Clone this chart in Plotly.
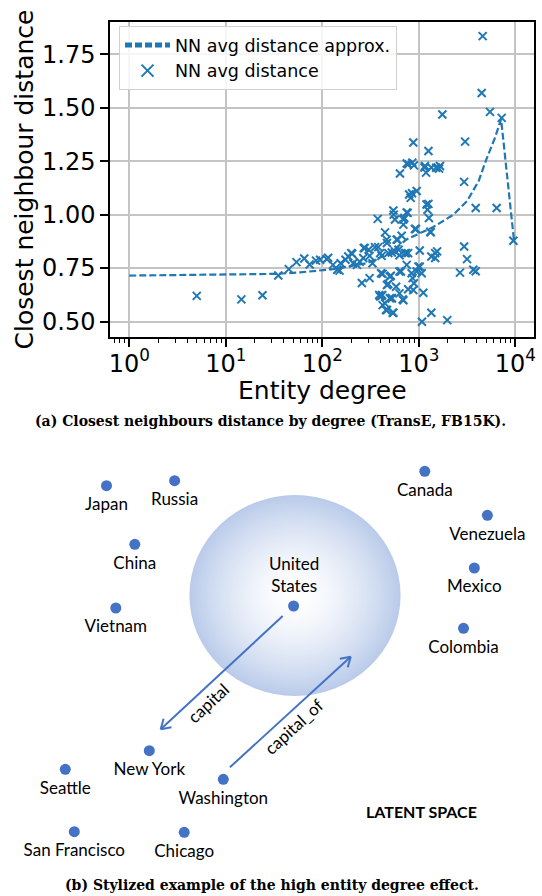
import numpy as np
import plotly.graph_objects as go

# ---------------- panel (a) data ----------------
degree = [5.0, 14.5, 24, 35, 45, 54, 65, 74, 86, 95, 115, 129, 143, 155, 174, 186, 204, 209,
          229, 245, 266, 275, 302, 309, 331, 352, 380, 412, 375, 447, 465, 483, 525, 545, 566,
          603, 617, 638, 665, 692, 708, 736, 750, 767, 794, 824, 857, 877, 891, 933, 951, 776,
          1023, 1159, 1189, 1259, 1202, 1230, 1274, 1327, 1349, 1479, 1549, 1514, 1622,
          257, 309, 422, 389, 417, 422, 457, 483, 513, 525, 545, 582, 631, 653, 681, 750, 776,
          843, 863, 877, 951, 991, 1023, 1072, 1114, 1079, 1349, 1972, 2673, 2951, 3162, 3673,
          3890, 3890, 2951, 3020, 6412, 9550, 4592, 4487, 5470, 7228, 1754, 1660,
          111, 151, 200, 269, 398, 407, 398, 468, 501, 566, 589, 468, 631, 718, 1479, 501, 631,
          1318, 912, 692, 750, 550, 851, 1259, 1148, 1349, 776, 891, 412, 447, 525, 468, 537, 692]
nn_dist = [0.620, 0.604, 0.623, 0.715, 0.745, 0.778, 0.795, 0.767, 0.785, 0.789, 0.798, 0.765,
           0.742, 0.773, 0.789, 0.804, 0.817, 0.773, 0.765, 0.780, 0.797, 0.844, 0.836, 0.807,
           0.773, 0.848, 0.848, 0.807, 0.980, 0.917, 0.883, 0.820, 0.823, 1.019, 0.977, 0.883,
           0.836, 1.192, 0.901, 0.953, 0.984, 0.820, 1.239, 1.008, 1.094, 1.078, 1.243, 1.337,
           1.230, 0.933, 1.110, 0.820, 0.832, 1.227, 1.196, 1.297, 1.047, 1.023, 0.984, 0.917,
           0.804, 0.797, 0.828, 1.219, 1.215,
           0.680, 0.703, 0.723, 0.624, 0.624, 0.577, 0.554, 0.676, 0.714, 0.609, 0.541, 0.663,
           0.632, 0.734, 0.604, 0.765, 0.651, 0.726, 0.703, 0.648, 0.734, 0.757, 0.756, 0.726,
           0.635, 0.499, 0.541, 0.507, 0.729, 0.851, 0.792, 0.742, 0.735, 1.031, 1.153, 1.341,
           1.031, 0.878, 1.834, 1.568, 1.480, 1.452, 1.468, 1.227,
           0.792, 0.738, 0.820, 0.844, 0.820, 0.726, 0.617, 0.671, 0.609, 0.828, 0.883, 0.867,
           0.810, 0.820, 0.820, 0.710, 0.734, 0.920, 0.933, 0.977, 1.010, 1.000, 1.100, 1.050,
           1.220, 1.220, 1.235, 0.679, 0.621, 0.585, 0.609, 0.554, 0.541, 0.600]

approx_degree = [1, 34, 59, 129, 288, 501, 741, 1413, 2291, 3162, 4169, 5012, 6166, 7129, 9683]
approx_dist = [0.715, 0.723, 0.730, 0.745, 0.773, 0.820, 0.883, 0.942, 1.000, 1.063, 1.156,
               1.258, 1.360, 1.446, 0.882]

x_tick_vals = [1, 10, 100, 1000, 10000]
x_tick_text = ["10<sup>0</sup>", "10<sup>1</sup>", "10<sup>2</sup>", "10<sup>3</sup>", "10<sup>4</sup>"]
y_tick_vals = [0.50, 0.75, 1.00, 1.25, 1.50, 1.75]

# ---------------- panel (b) data ----------------
entity_names = ["Japan", "Russia", "China", "Vietnam", "Canada", "Venezuela", "Mexico",
                "Colombia", "New York", "Seattle", "Washington", "San Francisco", "Chicago"]
entity_x = [106.5, 174.6, 134.8, 115.8, 424.8, 487.4, 474.3, 463.5, 149.3, 65.3, 223.3, 74.3, 184.2]
entity_y = [485.7, 480.7, 544.3, 608.0, 471.3, 515.3, 568.0, 628.3, 750.7, 769.3, 779.3, 831.7, 832.3]
hub_name = "United<br>States"
hub_x = 293.6
hub_y = 606.0
relation_names = ["capital", "capital_of"]
rel_x0 = [282.7, 229.9]
rel_y0 = [616.0, 767.3]
rel_x1 = [160.7, 350.7]
rel_y1 = [729.3, 656.7]
rel_label_t = [0.68, 0.455]

W, H = 542, 896
BLUE = "#1f77b4"
OFFICE_BLUE = "#4472c4"
PLOT_FONT = "DejaVu Sans"
DIAG_FONT = "Lato"
CAP_FONT = "DejaVu Serif"

fig = go.Figure()

# ---- panel (a) traces ----
fig.add_trace(go.Scatter(
    x=approx_degree, y=approx_dist, mode="lines", name="NN avg distance approx.",
    line=dict(color=BLUE, width=2.2, dash="7px,3px"), xaxis="x", yaxis="y"))
fig.add_trace(go.Scatter(
    x=degree, y=nn_dist, mode="markers", name="NN avg distance",
    marker=dict(symbol="x-thin", size=8, color=BLUE, line=dict(color=BLUE, width=2)),
    xaxis="x", yaxis="y"))

minor_vals = [m * 10.0 ** e for e in range(-1, 4) for m in range(2, 10)]

fig.update_layout(
    xaxis=dict(
        domain=[110 / W, 534 / W], type="log", range=[-0.2, 4.194],
        tickmode="array", tickvals=x_tick_vals, ticktext=x_tick_text,
        ticks="outside", ticklen=8, tickwidth=1.5, tickcolor="black",
        showline=True, mirror=True, linecolor="black", linewidth=1.5,
        showgrid=True, gridcolor="#c4c4c4", gridwidth=1.5, zeroline=False,
        tickfont=dict(family=PLOT_FONT, size=24, color="black"),
        ticklabelstandoff=-4,
        minor=dict(tickmode="array", tickvals=minor_vals, ticks="outside", ticklen=4.5,
                   tickwidth=1.2, tickcolor="black", showgrid=False),
        automargin=False, anchor="y"),
    yaxis=dict(
        domain=[1 - 337 / H, 1 - 22 / H], range=[0.428, 1.90],
        tickmode="array", tickvals=y_tick_vals, tickformat=".2f",
        ticks="outside", ticklen=8, tickwidth=1.5, tickcolor="black",
        showline=True, mirror=True, linecolor="black", linewidth=1.5,
        showgrid=True, gridcolor="#c4c4c4", gridwidth=1.5, zeroline=False,
        tickfont=dict(family=PLOT_FONT, size=24, color="black"),
        automargin=False, anchor="x"),
    xaxis2=dict(domain=[0, 1], range=[0, W], visible=False, anchor="y2", fixedrange=True),
    yaxis2=dict(domain=[0, 496 / H], range=[896, 400], visible=False, anchor="x2", fixedrange=True),
)

# ---- panel (b): gradient sphere ----
cx, cy, rx, ry = 295.0, 595.5, 105.6, 100.5
edge = np.array([186, 203, 234])
n_rings = 70
shapes = []
for i in range(n_rings):
    f = 1 - i / n_rings
    w = f ** 1.6
    c = (255 * (1 - w) + edge * w).round().astype(int)
    shapes.append(dict(type="circle", xref="x2", yref="y2", layer="below",
                       x0=cx - rx * f, x1=cx + rx * f, y0=cy - ry * f, y1=cy + ry * f,
                       fillcolor=f"rgb({c[0]},{c[1]},{c[2]})", line=dict(width=0)))

# ---- relation arrows ----
annotations = []
for name, x0, y0, x1, y1, t in zip(relation_names, rel_x0, rel_y0, rel_x1, rel_y1, rel_label_t):
    d = np.array([x1 - x0, y1 - y0])
    L = np.hypot(*d)
    u = d / L
    shapes.append(dict(type="line", xref="x2", yref="y2", x0=x0, y0=y0, x1=x1, y1=y1,
                       line=dict(color=OFFICE_BLUE, width=2)))
    for ang in (np.deg2rad(32), -np.deg2rad(32)):
        rot = np.array([[np.cos(ang), -np.sin(ang)], [np.sin(ang), np.cos(ang)]])
        hv = rot @ (-u) * 11
        shapes.append(dict(type="line", xref="x2", yref="y2", x0=x1, y0=y1,
                           x1=x1 + hv[0], y1=y1 + hv[1],
                           line=dict(color=OFFICE_BLUE, width=2)))
    perp = np.array([-u[1], u[0]])
    if perp[0] < 0:
        perp = -perp
    pos = np.array([x0, y0]) + d * t + perp * 13.5
    angle = -np.degrees(np.arctan2(abs(d[1]), abs(d[0])))
    annotations.append(dict(x=pos[0], y=pos[1], xref="x2", yref="y2", text=name,
                            showarrow=False, textangle=angle,
                            xanchor="center", yanchor="middle",
                            font=dict(family=DIAG_FONT, size=17, color="black")))

# ---- entity dots and labels ----
fig.add_trace(go.Scatter(
    x=entity_x + [hub_x], y=entity_y + [hub_y], mode="markers",
    marker=dict(size=11, color=OFFICE_BLUE), xaxis="x2", yaxis="y2",
    showlegend=False, hoverinfo="skip"))
fig.add_trace(go.Scatter(
    x=entity_x, y=[v + 20 for v in entity_y], mode="text", text=entity_names,
    textposition="middle center",
    textfont=dict(family=DIAG_FONT, size=17, color="black"),
    xaxis="x2", yaxis="y2", showlegend=False, hoverinfo="skip"))
annotations.append(dict(x=hub_x, y=hub_y - 32, xref="x2", yref="y2", text=hub_name,
                        showarrow=False, xanchor="center", yanchor="middle",
                        font=dict(family=DIAG_FONT, size=17, color="black")))
annotations.append(dict(x=421.7, y=811, xref="x2", yref="y2", text="<b>LATENT SPACE</b>",
                        showarrow=False, xanchor="center", yanchor="middle",
                        font=dict(family=DIAG_FONT, size=16, color="black")))

# ---- axis titles and captions ----
annotations.append(dict(x=0.5, y=1 - 390 / H, xref="x domain", yref="paper",
                        text="Entity degree", showarrow=False,
                        xanchor="center", yanchor="middle",
                        font=dict(family=PLOT_FONT, size=25, color="black")))
annotations.append(dict(x=24 / W, y=1 - 179.5 / H, xref="paper", yref="paper",
                        text="Closest neighbour distance", showarrow=False, textangle=-90,
                        xanchor="center", yanchor="middle",
                        font=dict(family=PLOT_FONT, size=25, color="black")))
annotations.append(dict(x=270, y=420.7, xref="x2", yref="y2",
                        text="<b>(a) Closest neighbours distance by degree (TransE, FB15K).</b>",
                        showarrow=False, xanchor="center", yanchor="middle",
                        font=dict(family=CAP_FONT, size=14, color="black")))
annotations.append(dict(x=272, y=885, xref="x2", yref="y2",
                        text="<b>(b) Stylized example of the high entity degree effect.</b>",
                        showarrow=False, xanchor="center", yanchor="middle",
                        font=dict(family=CAP_FONT, size=14, color="black")))

fig.update_layout(
    width=W, height=H, margin=dict(l=0, r=0, t=0, b=0),
    paper_bgcolor="white", plot_bgcolor="white",
    shapes=shapes, annotations=annotations,
    legend=dict(x=119 / W, y=1 - 26 / H, xanchor="left", yanchor="top",
                bgcolor="rgba(255,255,255,0.85)", bordercolor="#d0d0d0", borderwidth=1,
                font=dict(family=PLOT_FONT, size=17.5, color="black"),
                itemsizing="constant", itemwidth=45),
    showlegend=True,
)

fig.write_html("out.html", config={"displayModeBar": False},
               post_script="document.body.style.margin='0';document.body.style.overflow='hidden';")
